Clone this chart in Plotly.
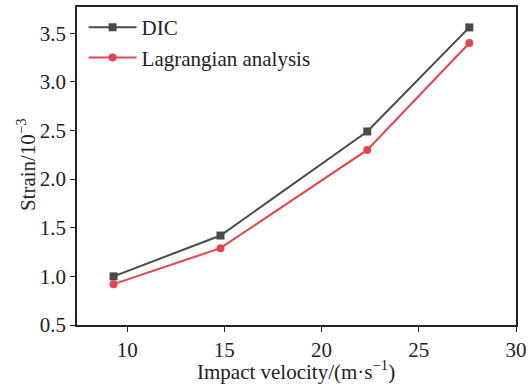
import plotly.graph_objects as go

velocity = [9.3, 14.8, 22.35, 27.6]
dic = [1.00, 1.42, 2.49, 3.56]
lagrangian = [0.92, 1.29, 2.30, 3.40]

x_ticks = [10, 15, 20, 25, 30]
y_ticks = [0.5, 1.0, 1.5, 2.0, 2.5, 3.0, 3.5]

fig = go.Figure()
fig.add_trace(go.Scatter(x=velocity, y=dic, mode="lines+markers", name="DIC",
                         line=dict(color="#4a4a4a", width=2),
                         marker=dict(symbol="square", size=8, color="#4a4a4a")))
fig.add_trace(go.Scatter(x=velocity, y=lagrangian, mode="lines+markers", name="Lagrangian analysis",
                         line=dict(color="#e8424f", width=2),
                         marker=dict(symbol="circle", size=8, color="#e8424f")))

axis_common = dict(showline=True, linecolor="#222", linewidth=1.5, mirror=True,
                   ticks="outside", ticklen=5, tickwidth=1.2, tickcolor="#222",
                   showgrid=False, zeroline=False, automargin=False,
                   tickfont=dict(family="Liberation Serif", size=21, color="#222"))

fig.update_layout(
    width=532, height=387,
    margin=dict(l=77, r=16, t=7, b=62),
    plot_bgcolor="white", paper_bgcolor="white",
    font=dict(family="Liberation Serif", color="#222"),
    xaxis=dict(range=[7.42, 30], tickvals=x_ticks, ticktext=[str(v) for v in x_ticks],
               **axis_common),
    yaxis=dict(range=[0.5, 3.77], tickvals=y_ticks, ticktext=[f"{v:.1f}" for v in y_ticks],
               **axis_common),
    legend=dict(x=0.015, y=1.0, xanchor="left", yanchor="top", bgcolor="rgba(0,0,0,0)",
                font=dict(family="Liberation Serif", size=21, color="#222"),
                itemwidth=48, tracegroupgap=0),
    showlegend=True,
    annotations=[
        dict(text="Impact velocity/(m·s<sup>−1</sup>)", xref="paper", yref="paper",
             x=0.499, y=-0.142, xanchor="center", yanchor="middle", showarrow=False,
             font=dict(family="Liberation Serif", size=21, color="#222")),
        dict(text="Strain/10<sup>−3</sup>", xref="paper", yref="paper",
             x=-0.116, y=0.503, xanchor="center", yanchor="middle", showarrow=False,
             textangle=-90, font=dict(family="Liberation Serif", size=21, color="#222")),
    ],
)

fig.write_html("out.html")
